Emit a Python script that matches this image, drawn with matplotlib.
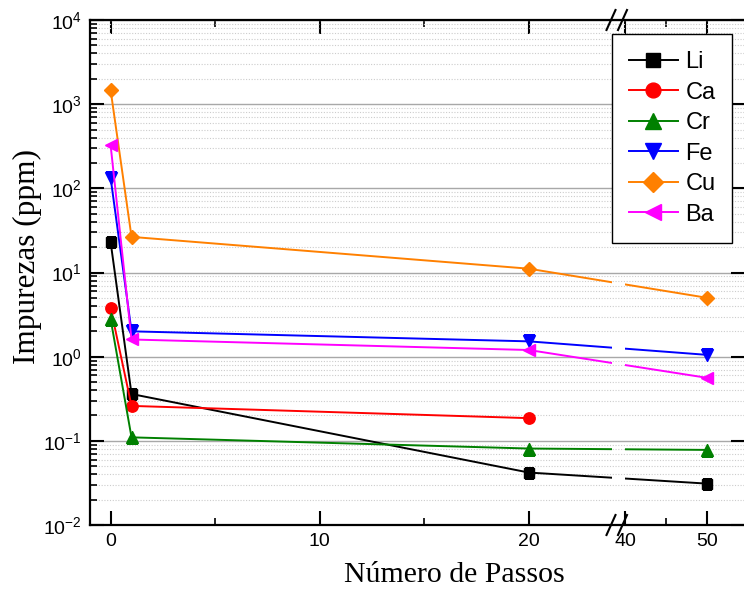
import numpy as np
import matplotlib
matplotlib.use("Agg")
import matplotlib.pyplot as plt
from matplotlib.path import Path
from matplotlib import transforms

# data
passos = [0, 1, 20, 50]
li = [23.0, 0.36, 0.042, 0.031]
ca = [3.8, 0.26, 0.186]
cr = [2.8, 0.11, 0.081, 0.078]
fe = [133, 2.0, 1.52, 1.05]
cu = [1470, 26.5, 11.1, 5.0]
ba = [325, 1.6, 1.2, 0.56]

x_major = [0, 10, 20, 40, 50]
x_minor = [5, 15, 45]

plt.rcParams["font.family"] = ["Liberation Sans", "DejaVu Sans"]
plt.rcParams["axes.unicode_minus"] = False


# broken x axis: 0..24 linear, squeeze 24..40, then 40.. at a smaller scale
def fwd(x):
    x = np.asarray(x, dtype=float)
    return np.where(x <= 24, x,
                    np.where(x <= 40, 24 + (x - 24) * (0.612 / 16),
                             24.612 + (x - 40) * 0.3923))


def inv(u):
    u = np.asarray(u, dtype=float)
    return np.where(u <= 24, u,
                    np.where(u <= 24.612, 24 + (u - 24) / (0.612 / 16),
                             40 + (u - 24.612) / 0.3923))


fig = plt.figure(figsize=(7.44, 5.93), dpi=100)
ax = fig.add_axes([90 / 744, 68 / 593, 655 / 744, 505 / 593])
ax.set_xscale("function", functions=(fwd, inv))
ax.set_yscale("log")
ax.set_xlim(-0.986, 54.6)
ax.set_ylim(1e-2, 1e4)

series = [
    ("Li", passos, li, "black", "s", 7.7),
    ("Ca", passos[:3], ca, "red", "o", 8.2),
    ("Cr", passos, cr, "green", "^", 9),
    ("Fe", passos, fe, "blue", "v", 9),
    ("Cu", passos, cu, "#FF8000", "D", 7.5),
    ("Ba", passos, ba, "magenta", "<", 9),
]

# clip lines so they have a gap at the axis break
trans = transforms.blended_transform_factory(ax.transData, ax.transAxes)


def rect(x0, x1):
    return Path([(x0, -1), (x1, -1), (x1, 2), (x0, 2), (x0, -1)],
                [Path.MOVETO, Path.LINETO, Path.LINETO, Path.LINETO, Path.CLOSEPOLY])


clip = Path.make_compound_path(rect(-5, 24), rect(39.4, 100))

for name, xs, ys, c, m, ms in series:
    ln, = ax.plot(xs, ys, color=c, marker=m, markersize=ms, lw=1.4, label=name,
                  markeredgecolor=c, zorder=3)
    ln.set_clip_path(clip, trans)

ax.set_xticks(x_major)
ax.set_xticks(x_minor, minor=True)
ax.set_xticklabels([str(v) for v in x_major])

ax.yaxis.grid(True, which="major", color="#A8A8A8", lw=1.0, ls="-")
ax.yaxis.grid(True, which="minor", color="#CCCCCC", lw=0.8, ls=(0, (1, 1.5)))
ax.set_axisbelow(True)

ax.tick_params(axis="both", which="major", direction="in", length=10, width=1.5,
               labelsize=14, top=True, pad=6)
ax.tick_params(axis="both", which="minor", direction="in", length=5, width=1.2, top=True)
ax.tick_params(axis="y", which="major", right=True)
for s in ax.spines.values():
    s.set_linewidth(1.6)

ax.set_xlabel("Número de Passos", family="Liberation Serif", fontsize=21.5)
ax.set_ylabel("Impurezas (ppm)", family="Liberation Serif", fontsize=22.5)
ax.xaxis.set_label_coords(0.556, -0.073)
ax.yaxis.set_label_coords(-0.074, 0.531)

# break marks "//" at top and bottom
dx, dy = 4.5 / 655, 10 / 505
for xc in [(611 - 90) / 655, (622.5 - 90) / 655]:
    for yc in [0, 1]:
        ax.plot([xc - dx, xc + dx], [yc - dy, yc + dy], transform=ax.transAxes,
                color="black", lw=1.5, clip_on=False, zorder=5)

leg = ax.legend(loc="upper left", bbox_to_anchor=(0.7965, 0.972), borderaxespad=0,
                fontsize=17, handlelength=2.1, handletextpad=0.3, labelspacing=0.36,
                borderpad=0.72, markerscale=1.3, fancybox=False, framealpha=1,
                edgecolor="black")
leg.get_frame().set_linewidth(1.0)

fig.savefig("out.png", dpi=100)
